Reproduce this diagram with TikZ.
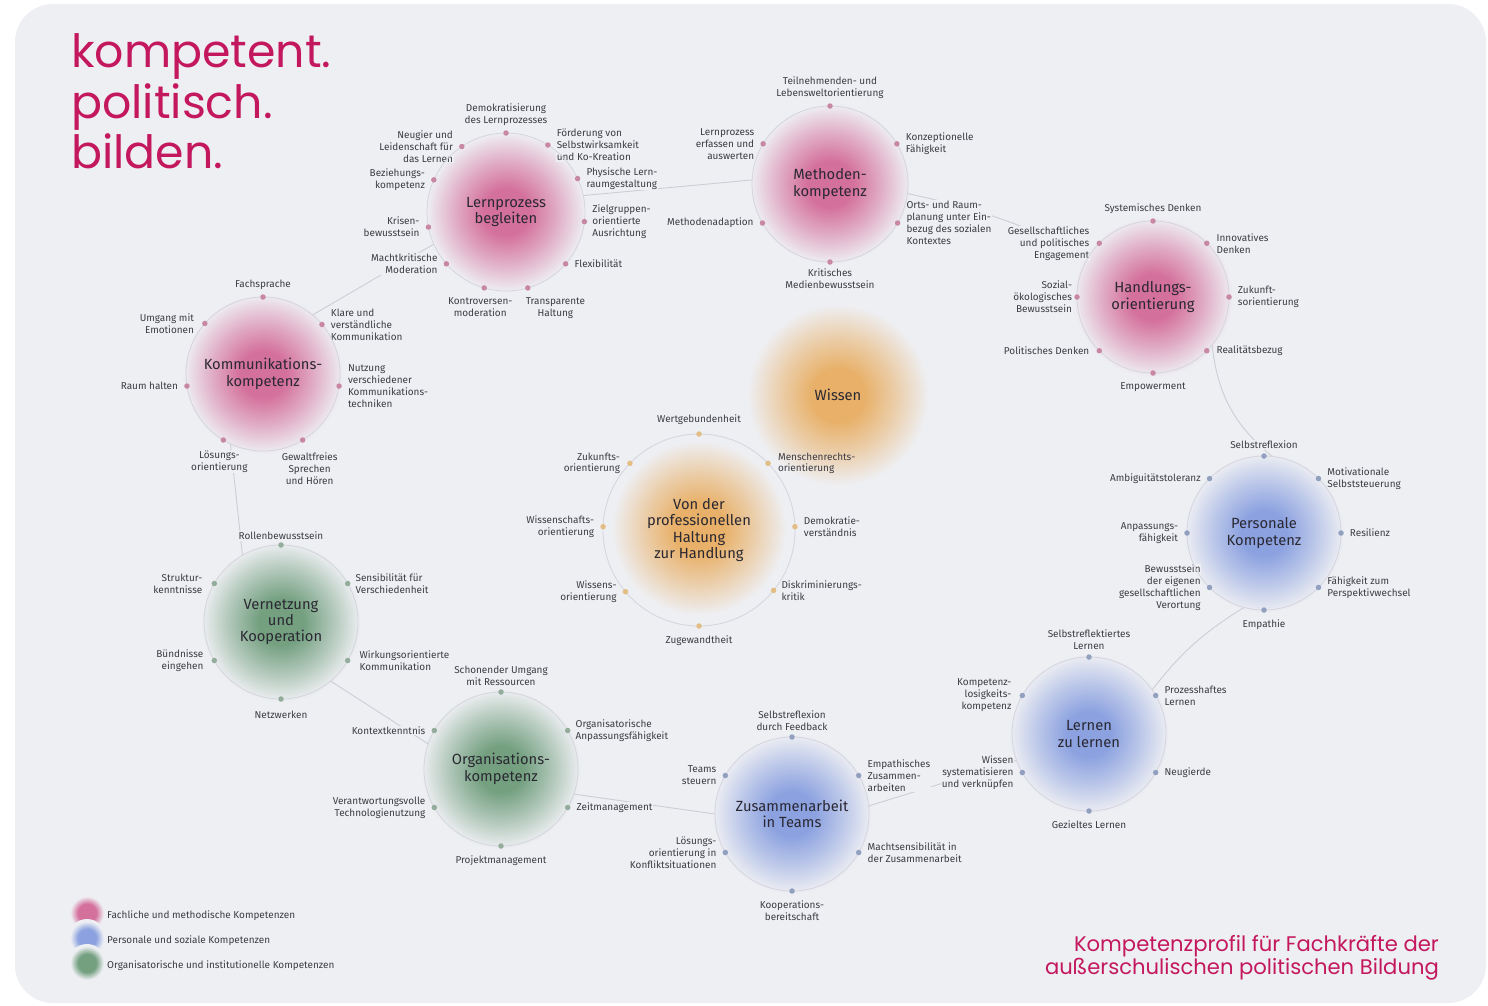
\documentclass[tikz,border=0pt]{standalone}
\usepackage{fontspec}
\setmainfont{Fira Sans}
\newfontfamily\brandfont{Poppins}
\usetikzlibrary{positioning}

% palette
\definecolor{bgc}{RGB}{238,239,243}
\definecolor{brand}{RGB}{196,24,94}
\definecolor{labc}{RGB}{60,60,68}
\definecolor{headc}{RGB}{42,40,50}
\definecolor{ringc}{RGB}{212,213,221}
\definecolor{linkc}{RGB}{204,206,214}
\definecolor{pinkc}{RGB}{212,112,156}
\definecolor{bluec}{RGB}{140,162,224}
\definecolor{greenc}{RGB}{116,160,128}
\definecolor{orangec}{RGB}{232,176,104}
\colorlet{pinkmid}{pinkc!55!bgc}
\colorlet{bluemid}{bluec!55!bgc}
\colorlet{greenmid}{greenc!55!bgc}
\colorlet{orangemid}{orangec!55!bgc}
\definecolor{pinkdot}{RGB}{200,136,164}
\definecolor{bluedot}{RGB}{146,160,192}
\definecolor{greendot}{RGB}{148,172,156}
\definecolor{orangedot}{RGB}{226,190,132}

% soft radial blobs fading into the paper colour
% (the path's radius corresponds to 25bp of the shading)
\newcommand\blobshade[3]{%
  \pgfdeclareradialshading{#1}{\pgfpointorigin}{color(0bp)=(#2); color(6bp)=(#2); color(13bp)=(#3); color(21bp)=(bgc); color(25bp)=(bgc); color(50bp)=(bgc)}}
\blobshade{pinkblob}{pinkc}{pinkmid}
\blobshade{blueblob}{bluec}{bluemid}
\blobshade{greenblob}{greenc}{greenmid}
\blobshade{orangeblob}{orangec}{orangemid}
% compact swatches for the key
\newcommand\swatchshade[2]{%
  \pgfdeclareradialshading{#1}{\pgfpointorigin}{color(0bp)=(#2); color(12bp)=(#2); color(22bp)=(bgc); color(25bp)=(bgc); color(50bp)=(bgc)}}
\swatchshade{pinkswatch}{pinkc}
\swatchshade{blueswatch}{bluec}
\swatchshade{greenswatch}{greenc}

\newcommand\lblfont{\fontsize{10}{12}\selectfont}
\newcommand\headfont{\fontsize{14.8}{16.5}\selectfont}

\pgfdeclarelayer{blobs}
\pgfdeclarelayer{links}
\pgfdeclarelayer{labels}
\pgfsetlayers{blobs,links,labels,main}

\tikzset{
  ring/.style={circle, draw=ringc, line width=0.8bp, inner sep=0pt, outer sep=0pt,
    minimum size=#1, align=center, font=\headfont, text=headc},
  link/.style={draw=linkc, line width=0.9bp},
  pdot/.style={circle, fill=pinkdot, inner sep=0pt, minimum size=5.5bp},
  bdot/.style={circle, fill=bluedot, inner sep=0pt, minimum size=5.5bp},
  gdot/.style={circle, fill=greendot, inner sep=0pt, minimum size=5.5bp},
  odot/.style={circle, fill=orangedot, inner sep=0pt, minimum size=5.5bp},
  lbl/.style={font=\lblfont, text=labc, inner sep=0.8bp, fill=bgc},
  alg left/.style={align=right},
  alg right/.style={align=left},
  alg above/.style={align=center},
  alg below/.style={align=center},
  legendtext/.style={font=\fontsize{10}{12}\selectfont, text=labc, anchor=west, inner sep=0pt},
  brandtext/.style={text=brand, inner sep=0pt},
}

% a competence point on a ring with its caption
% [extra caption options]{ring}{angle}{dot style}{name}{side}{gap}{caption}
\newcommand\kp[8][]{%
  \node[#4] (#5) at (#2.#3) {};
  \begin{pgfonlayer}{labels}
    \node[lbl, alg #6, #6=#7 of #5, #1] (#5t) {#8};
  \end{pgfonlayer}}

\begin{document}
\begin{tikzpicture}[x=1bp, y=-1bp]
\useasboundingbox (0,0) rectangle (1488,1005);

\begin{pgfonlayer}{blobs}
  \fill[white] (0,0) rectangle (1488,1005);
  \fill[bgc, rounded corners=38bp] (15,4) rectangle (1486,1003);
  \shade[shading=pinkblob]   (506,212) circle (95);
  \shade[shading=pinkblob]   (830,184) circle (95);
  \shade[shading=pinkblob]   (1153,297) circle (95);
  \shade[shading=pinkblob]   (263,374) circle (95);
  \shade[shading=greenblob]  (281,622) circle (95);
  \shade[shading=greenblob]  (501,769) circle (95);
  \shade[shading=blueblob]   (792,814) circle (95);
  \shade[shading=blueblob]   (1089,734) circle (95);
  \shade[shading=blueblob]   (1264,533) circle (95);
  \shade[shading=orangeblob] (838,395) circle (108);
  \shade[shading=orangeblob] (699,528) circle (104);
  % key swatches
  \shade[shading=pinkswatch]  (87,913) circle (19);
  \shade[shading=blueswatch]  (87,938) circle (19);
  \shade[shading=greenswatch] (87,963) circle (19);
\end{pgfonlayer}

% competence rings
\node[ring=158bp] (lp) at (506,212) {Lernprozess\\begleiten};
\node[ring=156bp] (mk) at (830,184) {Methoden-\\kompetenz};
\node[ring=152bp] (ho) at (1153,297) {Handlungs-\\orientierung};
\node[ring=154bp] (kk) at (263,374) {Kommunikations-\\kompetenz};
\node[ring=154bp] (vk) at (281,622) {Vernetzung\\und\\Kooperation};
\node[ring=154bp] (ok) at (501,769) {Organisations-\\kompetenz};
\node[ring=154bp] (zt) at (792,814) {Zusammenarbeit\\in Teams};
\node[ring=154bp] (ll) at (1089,734) {Lernen\\zu lernen};
\node[ring=154bp] (pk) at (1264,533) {Personale\\Kompetenz};
\node[ring=192bp] (ph) at (699,530) {Von der\\professionellen\\Haltung\\zur Handlung};
\node[font=\headfont, text=headc] (wi) at (838,395) {Wissen};

% connections between the rings
\begin{pgfonlayer}{links}
  \draw[link] (kk.50) -- (lp.-156);
  \draw[link] (lp.12) -- (mk.177);
  \draw[link] (mk.-7) to[bend left=7] (ho.148);
  \draw[link] (ho.-39) to[bend right=22] (pk.84);
  \draw[link] (pk.-105) to[bend right=10] (ll.35);
  \draw[link] (ll.200) -- (zt.6);
  \draw[link] (zt.180) -- (ok.-19);
  \draw[link] (ok.161) -- (vk.-50);
  \draw[link] (vk.120) -- (kk.-115);
\end{pgfonlayer}

% Lernprozess begleiten
\kp{lp}{90}{pdot}{lp1}{above}{3bp}{Demokratisierung\\des Lernprozesses}
\kp{lp}{124}{pdot}{lp2}{left}{5bp}{Neugier und\\Leidenschaft für\\das Lernen}
\kp{lp}{58.5}{pdot}{lp3}{right}{5bp}{Förderung von\\Selbstwirksamkeit\\und Ko-Kreation}
\kp{lp}{156}{pdot}{lp4}{left}{5bp}{Beziehungs-\\kompetenz}
\kp{lp}{25}{pdot}{lp5}{right}{5bp}{Physische Lern-\\raumgestaltung}
\kp{lp}{-169}{pdot}{lp6}{left}{5bp}{Krisen-\\bewusstsein}
\kp{lp}{-7}{pdot}{lp7}{right}{4bp}{Zielgruppen-\\orientierte\\Ausrichtung}
\kp{lp}{-139}{pdot}{lp8}{left}{5bp}{Machtkritische\\Moderation}
\kp{lp}{-41}{pdot}{lp9}{right}{5bp}{Flexibilität}
\kp[xshift=-4bp]{lp}{-106}{pdot}{lp10}{below}{6bp}{Kontroversen-\\moderation}
\kp[anchor=north west,xshift=-3bp]{lp}{-74}{pdot}{lp11}{below}{6bp}{Transparente\\Haltung}

% Methodenkompetenz
\kp{mk}{90}{pdot}{mk1}{above}{3bp}{Teilnehmenden- und\\Lebensweltorientierung}
\kp{mk}{149}{pdot}{mk2}{left}{5bp}{Lernprozess\\erfassen und\\auswerten}
\kp{mk}{31}{pdot}{mk3}{right}{5bp}{Konzeptionelle\\Fähigkeit}
\kp{mk}{-150}{pdot}{mk4}{left}{5bp}{Methodenadaption}
\kp{mk}{-30}{pdot}{mk5}{right}{5bp}{Orts- und Raum-\\planung unter Ein-\\bezug des sozialen\\Kontextes}
\kp{mk}{-90}{pdot}{mk6}{below}{3bp}{Kritisches\\Medienbewusstsein}

% Handlungsorientierung
\kp{ho}{90}{pdot}{ho1}{above}{3bp}{Systemisches Denken}
\kp{ho}{135}{pdot}{ho2}{left}{6bp}{Gesellschaftliches\\und politisches\\Engagement}
\kp{ho}{45}{pdot}{ho3}{right}{6bp}{Innovatives\\Denken}
\kp{ho}{180}{pdot}{ho4}{left}{1bp}{Sozial-\\ökologisches\\Bewusstsein}
\kp{ho}{0}{pdot}{ho5}{right}{5bp}{Zukunft-\\sorientierung}
\kp{ho}{-135}{pdot}{ho6}{left}{6bp}{Politisches Denken}
\kp{ho}{-45}{pdot}{ho7}{right}{6bp}{Realitätsbezug}
\kp{ho}{-90}{pdot}{ho8}{below}{6bp}{Empowerment}

% Kommunikationskompetenz
\kp{kk}{90}{pdot}{kk1}{above}{3bp}{Fachsprache}
\kp{kk}{139}{pdot}{kk2}{left}{7bp}{Umgang mit\\Emotionen}
\kp{kk}{40}{pdot}{kk3}{right}{5bp}{Klare und\\verständliche\\Kommunikation}
\kp{kk}{-171}{pdot}{kk4}{left}{5bp}{Raum halten}
\kp{kk}{-9}{pdot}{kk5}{right}{5bp}{Nutzung\\verschiedener\\Kommunikations-\\techniken}
\kp[xshift=-4bp]{kk}{-121}{pdot}{kk6}{below}{7bp}{Lösungs-\\orientierung}
\kp[xshift=7bp]{kk}{-59}{pdot}{kk7}{below}{9bp}{Gewaltfreies\\Sprechen\\und Hören}

% Vernetzung und Kooperation
\kp{vk}{90}{gdot}{vk1}{above}{1bp}{Rollenbewusstsein}
\kp{vk}{150}{gdot}{vk2}{left}{8bp}{Struktur-\\kenntnisse}
\kp{vk}{30}{gdot}{vk3}{right}{4bp}{Sensibilität für\\Verschiedenheit}
\kp{vk}{-150}{gdot}{vk4}{left}{7bp}{Bündnisse\\eingehen}
\kp{vk}{-30}{gdot}{vk5}{right}{8bp}{Wirkungsorientierte\\Kommunikation}
\kp{vk}{-90}{gdot}{vk6}{below}{8bp}{Netzwerken}

% Organisationskompetenz
\kp{ok}{90}{gdot}{ok1}{above}{2bp}{Schonender Umgang\\mit Ressourcen}
\kp{ok}{150}{gdot}{ok2}{left}{5bp}{Kontextkenntnis}
\kp{ok}{30}{gdot}{ok3}{right}{4bp}{Organisatorische\\Anpassungsfähigkeit}
\kp{ok}{-150}{gdot}{ok4}{left}{5bp}{Verantwortungsvolle\\Technologienutzung}
\kp{ok}{-30}{gdot}{ok5}{right}{5bp}{Zeitmanagement}
\kp{ok}{-90}{gdot}{ok6}{below}{6bp}{Projektmanagement}

% Zusammenarbeit in Teams
\kp{zt}{90}{bdot}{zt1}{above}{2bp}{Selbstreflexion\\durch Feedback}
\kp{zt}{150}{bdot}{zt2}{left}{5bp}{Teams\\steuern}
\kp{zt}{30}{bdot}{zt3}{right}{5bp}{Empathisches\\Zusammen-\\arbeiten}
\kp{zt}{-150}{bdot}{zt4}{left}{5bp}{Lösungs-\\orientierung in\\Konfliktsituationen}
\kp{zt}{-30}{bdot}{zt5}{right}{5bp}{Machtsensibilität in\\der Zusammenarbeit}
\kp{zt}{-90}{bdot}{zt6}{below}{6bp}{Kooperations-\\bereitschaft}

% Lernen zu lernen
\kp{ll}{90}{bdot}{ll1}{above}{3bp}{Selbstreflektiertes\\Lernen}
\kp{ll}{150}{bdot}{ll2}{left}{7bp}{Kompetenz-\\losigkeits-\\kompetenz}
\kp{ll}{30}{bdot}{ll3}{right}{5bp}{Prozesshaftes\\Lernen}
\kp{ll}{-150}{bdot}{ll4}{left}{5bp}{Wissen\\systematisieren\\und verknüpfen}
\kp{ll}{-30}{bdot}{ll5}{right}{5bp}{Neugierde}
\kp{ll}{-90}{bdot}{ll6}{below}{6bp}{Gezieltes Lernen}

% Personale Kompetenz
\kp{pk}{90}{bdot}{pk1}{above}{3bp}{Selbstreflexion}
\kp{pk}{135}{bdot}{pk2}{left}{5bp}{Ambiguitätstoleranz}
\kp{pk}{45}{bdot}{pk3}{right}{5bp}{Motivationale\\Selbststeuerung}
\kp{pk}{180}{bdot}{pk4}{left}{5bp}{Anpassungs-\\fähigkeit}
\kp{pk}{0}{bdot}{pk5}{right}{5bp}{Resilienz}
\kp{pk}{-135}{bdot}{pk6}{left}{5bp}{Bewusstsein\\der eigenen\\gesellschaftlichen\\Verortung}
\kp{pk}{-45}{bdot}{pk7}{right}{5bp}{Fähigkeit zum\\Perspektivwechsel}
\kp{pk}{-90}{bdot}{pk8}{below}{6bp}{Empathie}

% Von der professionellen Haltung zur Handlung
\kp{ph}{90}{odot}{ph1}{above}{5bp}{Wertgebundenheit}
\kp{ph}{136}{odot}{ph2}{left}{6bp}{Zukunfts-\\orientierung}
\kp[fill=none]{ph}{44}{odot}{ph3}{right}{6bp}{Menschenrechts-\\orientierung}
\kp{ph}{178}{odot}{ph4}{left}{5bp}{Wissenschafts-\\orientierung}
\kp{ph}{2}{odot}{ph5}{right}{5bp}{Demokratie-\\verständnis}
\kp{ph}{-140}{odot}{ph6}{left}{5bp}{Wissens-\\orientierung}
\kp{ph}{-39}{odot}{ph7}{right}{4bp}{Diskriminierungs-\\kritik}
\kp{ph}{-90}{odot}{ph8}{below}{6bp}{Zugewandtheit}

% headline
\node[brandtext, font=\brandfont\fontsize{46}{50}\selectfont, anchor=base west] (t1) at (71,67) {kompetent.};
\node[brandtext, font=\brandfont\fontsize{46}{50}\selectfont, anchor=base west] (t2) at (71,118) {politisch.};
\node[brandtext, font=\brandfont\fontsize{46}{50}\selectfont, anchor=base west] (t3) at (71,168) {bilden.};

% subtitle
\node[brandtext, font=\brandfont\fontsize{21.2}{23}\selectfont, anchor=base east] (s1) at (1439,951) {Kompetenzprofil für Fachkräfte der};
\node[brandtext, font=\brandfont\fontsize{21.2}{23}\selectfont, anchor=base east] (s2) at (1439,974) {außerschulischen politischen Bildung};

% key
\node[legendtext] (lg1) at (107,916) {Fachliche und methodische Kompetenzen};
\node[legendtext] (lg2) at (107,941) {Personale und soziale Kompetenzen};
\node[legendtext] (lg3) at (107,966) {Organisatorische und institutionelle Kompetenzen};
\end{tikzpicture}
\end{document}
